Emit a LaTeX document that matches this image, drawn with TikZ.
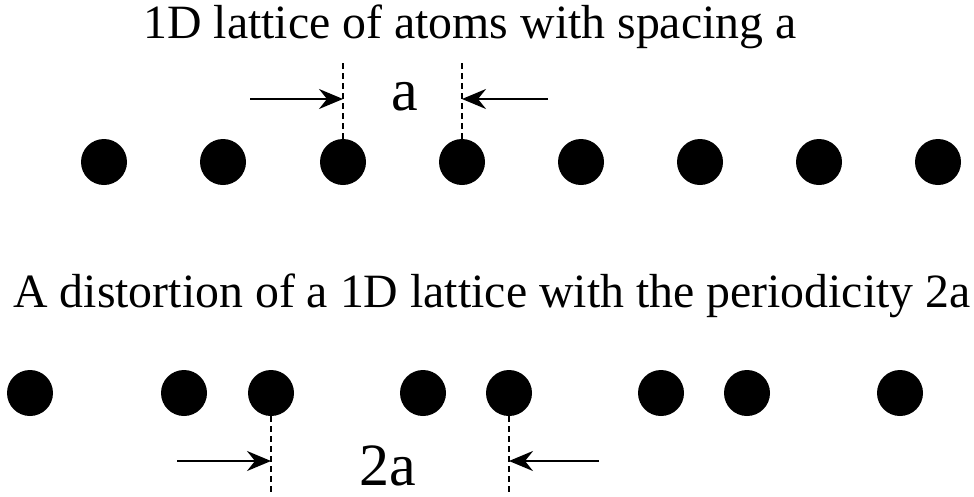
\documentclass[tikz,border=0pt]{standalone}
\usepackage{fontspec}
\setmainfont{Liberation Serif}
\usetikzlibrary{arrows.meta}
\begin{document}
\begin{tikzpicture}[x=1pt,y=-1pt,
  atom/.style={circle,fill=black,inner sep=0pt,minimum size=46pt},
  guide/.style={line width=2.2pt,dash pattern=on 6pt off 4pt},
  dimarrow/.style={line width=2.2pt,-{Stealth[length=24pt,width=20pt,inset=8pt]}},
  titletext/.style={font=\fontsize{47.8}{56}\selectfont,anchor=base,inner sep=0pt},
  dimlabel/.style={font=\fontsize{60}{70}\selectfont,anchor=base,inner sep=0pt,text depth=0pt}]
\useasboundingbox (0,0) rectangle (974,496);
% top lattice
\node[titletext] (t1) at (470,38) {1D lattice of atoms with spacing a};
\foreach \x [count=\i] in {104,223,343,462,581,700,819,938}
  \node[atom] (u\i) at (\x,162) {};
\coordinate (ua) at (343,60);
\coordinate (ub) at (462,60);
\draw[guide] (u3.north) -- (ua);
\draw[guide] (u4.north) -- (ub);
\coordinate (ual) at (250,99);
\coordinate (uam) at (343,99);
\coordinate (ubr) at (548,99);
\coordinate (ubm) at (462,99);
\draw[dimarrow] (ual) -- (uam);
\draw[dimarrow] (ubr) -- (ubm);
\node[dimlabel] (alab) at (405,110) {a};
% bottom lattice
\node[titletext] (t2) at (492,307) {A distortion of a 1D lattice with the periodicity 2a};
\foreach \x [count=\i] in {30,184,271,423,509,661,747,900}
  \node[atom] (l\i) at (\x,393) {};
\coordinate (la) at (271,496);
\coordinate (lb) at (509,496);
\draw[guide] (l3.south) -- (la);
\draw[guide] (l5.south) -- (lb);
\coordinate (lal) at (177,461);
\coordinate (lam) at (271,461);
\coordinate (lbr) at (599,461);
\coordinate (lbm) at (509,461);
\draw[dimarrow] (lal) -- (lam);
\draw[dimarrow] (lbr) -- (lbm);
\node[dimlabel] (blab) at (388,485) {2a};
\end{tikzpicture}
\end{document}
